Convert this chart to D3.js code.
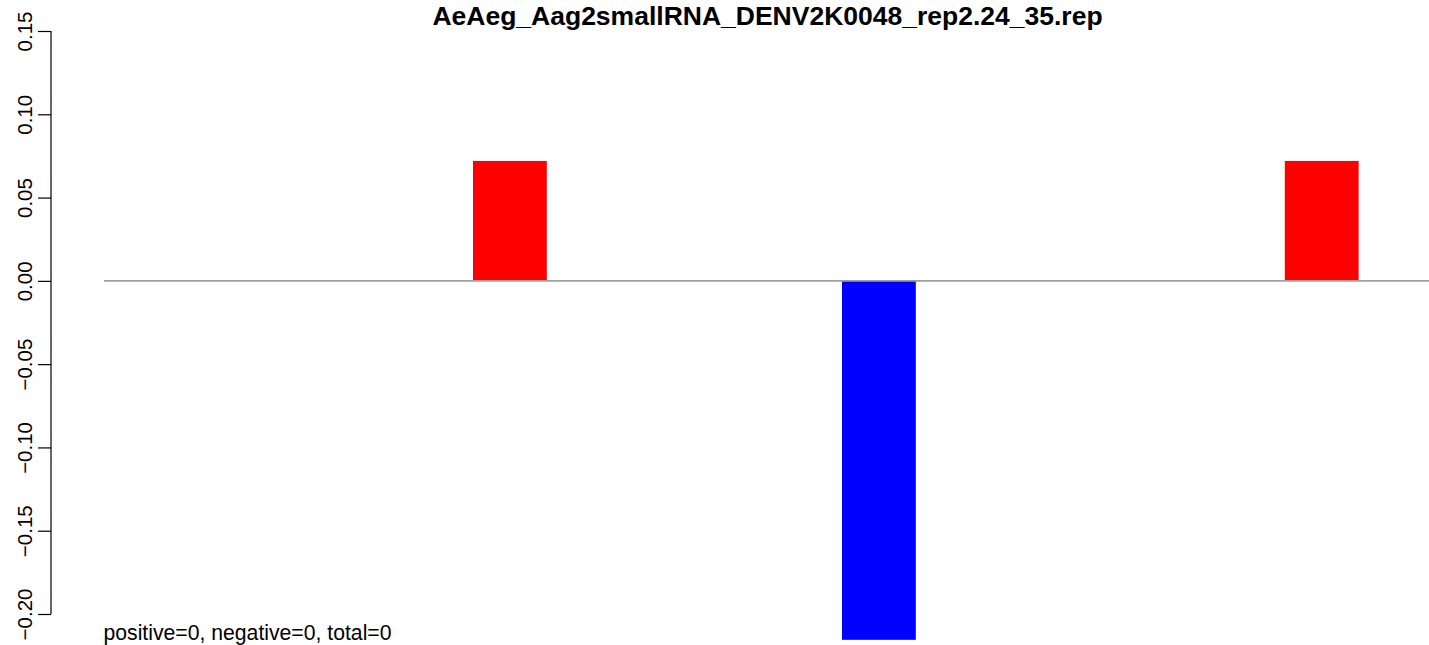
<!DOCTYPE html>
<html>
<head>
<meta charset="utf-8">
<script src="https://cdn.jsdelivr.net/npm/d3@7"></script>
<style>
  html, body { margin: 0; padding: 0; background: #fff; }
  svg { display: block; }
  text { font-family: "Liberation Sans", Arial, Helvetica, sans-serif; }
</style>
</head>
<body>
<script>
// ---- data ----
const title = "AeAeg_Aag2smallRNA_DENV2K0048_rep2.24_35.rep";
const positions = [5, 10, 16];          // bar slot (left edge) along x
const values = [0.072, -0.2155, 0.072]; // bar heights
const barColors = ["#ff0000", "#0000ff", "#ff0000"];
const yTicks = [-0.20, -0.15, -0.10, -0.05, 0.00, 0.05, 0.10, 0.15];
const xDomain = [0, 18];
const footnote = "positive=0, negative=0, total=0";

const W = 1429, H = 645;
const svg = d3.select("body").append("svg").attr("width", W).attr("height", H);

const y = d3.scaleLinear().domain([-0.20, 0.15]).range([614, 31]);
const x = d3.scaleLinear().domain(xDomain).range([104, 1432.4]);

// bars
svg.append("g").selectAll("rect")
  .data(values.map((v, i) => ({ v, p: positions[i], c: barColors[i] })))
  .join("rect")
  .attr("x", d => x(d.p))
  .attr("width", d => x(d.p + 1) - x(d.p))
  .attr("y", d => Math.min(y(0), y(d.v)))
  .attr("height", d => Math.abs(y(d.v) - y(0)))
  .attr("fill", d => d.c);

// zero line
svg.append("line")
  .attr("x1", x(xDomain[0])).attr("x2", x(xDomain[1]))
  .attr("y1", y(0)).attr("y2", y(0))
  .attr("stroke", "#a0a0a0").attr("stroke-width", 1.6);

// y axis
const axisX = 51;
const ax = svg.append("g").attr("transform", `translate(${axisX},0)`)
  .call(d3.axisLeft(y).tickValues(yTicks).tickSize(13).tickSizeOuter(0)
    .tickFormat(d => d3.format(".2f")(d).replace("-", "\u2212")));
ax.select(".domain").attr("stroke", "#000").attr("stroke-width", 1.2)
  .attr("d", `M0,${y(-0.20)}V${y(0.15)}`);
ax.selectAll(".tick line").attr("stroke", "#000").attr("stroke-width", 1.2);
ax.selectAll(".tick text")
  .attr("x", null).attr("dy", null)
  .attr("transform", `translate(${32 - axisX},0) rotate(-90)`)
  .attr("text-anchor", "middle")
  .attr("font-size", 20.5)
  .attr("fill", "#000")
  .attr("font-family", "Liberation Sans, Arial, sans-serif");

// title
svg.append("text")
  .attr("x", 767.5).attr("y", 24.5)
  .attr("text-anchor", "middle")
  .attr("font-weight", "bold")
  .attr("font-size", 26.5)
  .text(title);

// footnote
svg.append("text")
  .attr("x", 103.5).attr("y", 640)
  .attr("font-size", 21.2)
  .text(footnote);
</script>
</body>
</html>
